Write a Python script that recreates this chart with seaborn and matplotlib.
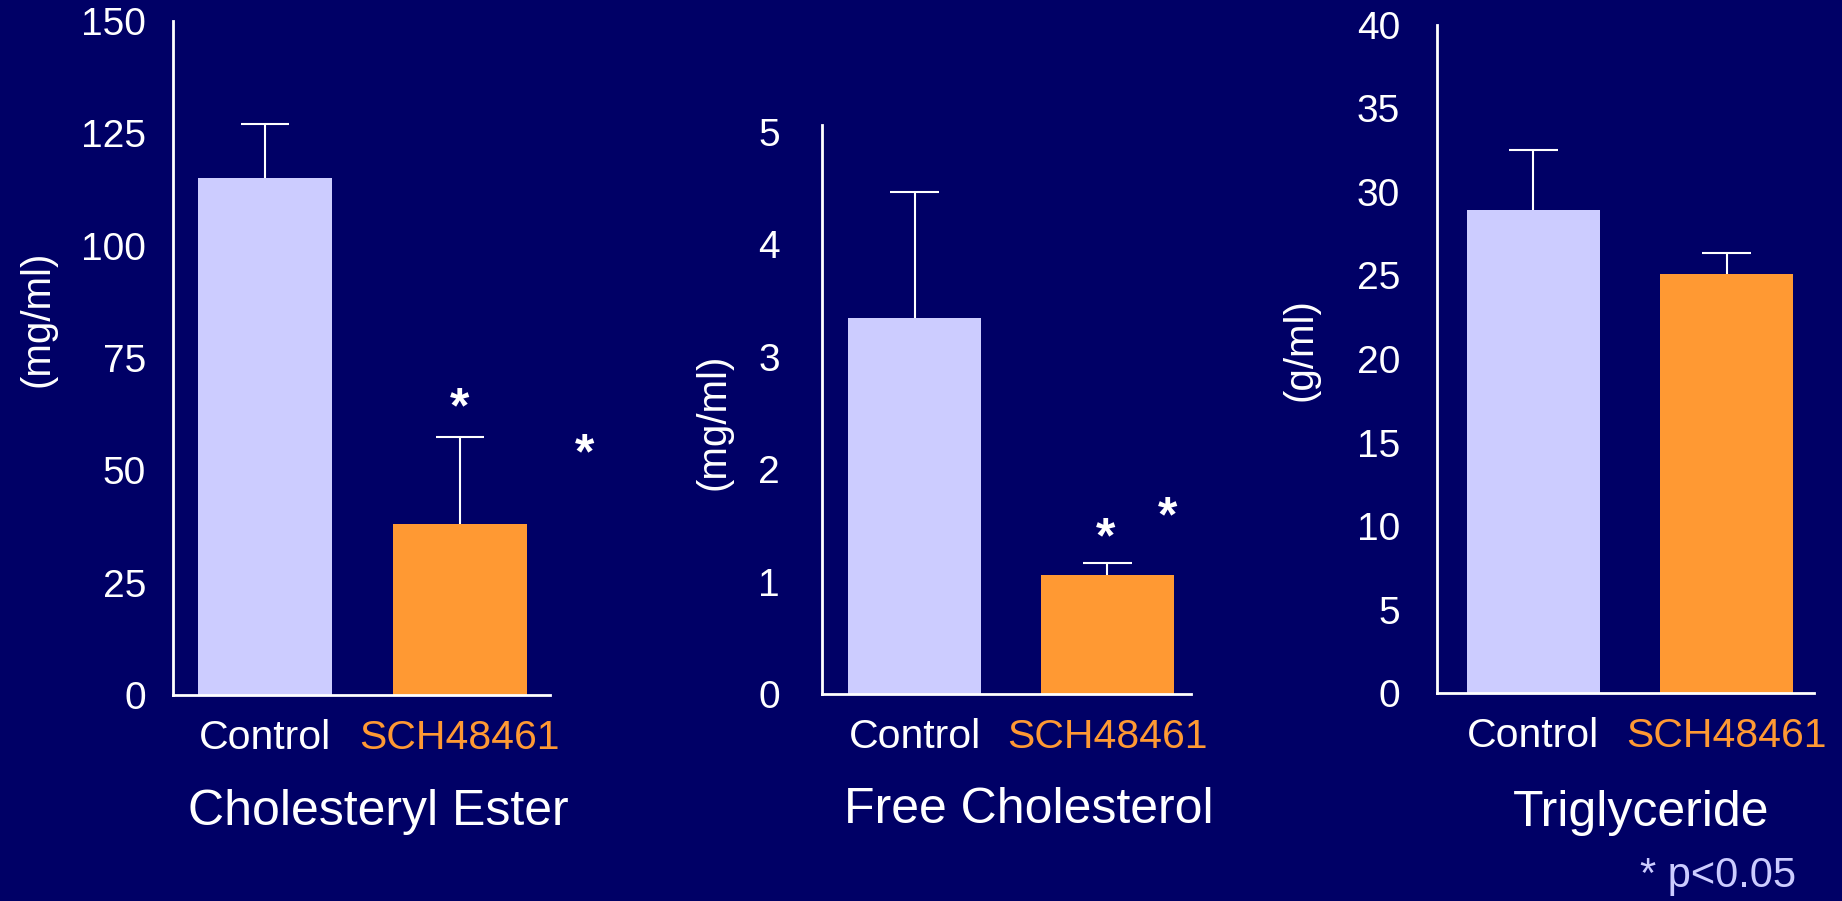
import matplotlib
matplotlib.use("Agg")
import matplotlib.pyplot as plt
import pandas as pd
import seaborn as sns
import numpy as np

# values
groups = ["Control", "SCH48461"]

ce_mean = [115.0, 38.0]
ce_sem = [12.0, 19.5]

fc_mean = [3.35, 1.06]
fc_sem = [1.12, 0.11]

tg_mean = [28.9, 25.1]
tg_sem = [3.6, 1.25]

ce_ticks = [0, 25, 50, 75, 100, 125, 150]
fc_ticks = [0, 1, 2, 3, 4, 5]
tg_ticks = [0, 5, 10, 15, 20, 25, 30, 35, 40]

titles = ["Cholesteryl Ester", "Free Cholesterol", "Triglyceride"]
units = ["(mg/ml)", "(mg/ml)", "(g/ml)"]

# significance stars (x, y in data units) per panel
ce_stars = [(1.0, 60.8), (1.64, 50.5)]
fc_stars = [(0.99, 1.265), (1.31, 1.445)]
tg_stars = []

NAVY = "#000066"
CTRL = "#CCCCFF"
ORANGE = "#FF9933"
palette = {"Control": CTRL, "SCH48461": ORANGE}

sns.set_style("white", {"axes.facecolor": NAVY, "figure.facecolor": NAVY})
plt.rcParams["font.family"] = ["Liberation Sans", "DejaVu Sans"]

fig = plt.figure(figsize=(18.42, 9.01), dpi=100)

panels = [
    # mean, sem, ticks, ylim, xlim, axes rect, tick pad, ylabel coords, xlabel coords, stars
    (ce_mean, ce_sem, ce_ticks, (0, 150), (-0.472, 1.462),
     [0.0939, 0.2286, 0.2047, 0.7480], 10, (-0.358, 0.558), (0.544, -0.174), ce_stars),
    (fc_mean, fc_sem, fc_ticks, (0, 5.067), (-0.479, 1.433),
     [0.4463, 0.2297, 0.2003, 0.6321], 21, (-0.295, 0.478), (0.561, -0.204), fc_stars),
    (tg_mean, tg_sem, tg_ticks, (0, 40), (-0.500, 1.453),
     [0.7801, 0.2303, 0.2047, 0.7423], 17, (-0.361, 0.514), (0.541, -0.179), tg_stars),
]

for i, (mean, sem, ticks, ylim, xlim, rect, pad, ylc, xlc, stars) in enumerate(panels):
    ax = fig.add_axes(rect)
    df = pd.DataFrame({"group": groups, "value": mean, "sem": sem})
    sns.barplot(data=df, x="group", y="value", hue="group", palette=palette,
                legend=False, width=0.69, saturation=1, linewidth=0, ax=ax)

    # one-sided (upward) error bars
    xs = np.arange(len(groups))
    tops = df["value"] + df["sem"]
    ax.vlines(xs, df["value"], tops, color="white", lw=1.5, zorder=3)
    ax.hlines(tops, xs - 0.125, xs + 0.125, color="white", lw=1.5, zorder=3)

    ax.set_ylim(*ylim)
    ax.set_xlim(*xlim)
    ax.set_yticks(ticks)
    ax.set_yticklabels([str(t) for t in ticks])

    sns.despine(ax=ax)
    for side in ["left", "bottom"]:
        ax.spines[side].set_color("white")
        ax.spines[side].set_linewidth(2)

    ax.tick_params(axis="y", colors="white", labelsize=28, length=9.4, width=1.5, pad=pad)
    ax.tick_params(axis="x", length=0, pad=17, labelsize=29.5)
    for lab in ax.get_xticklabels():
        lab.set_color("white" if lab.get_text() == "Control" else ORANGE)

    ax.set_ylabel(units[i], color="white", fontsize=29, va="center")
    ax.yaxis.set_label_coords(*ylc)
    ax.set_xlabel(titles[i], color="white", fontsize=36, va="center")
    ax.xaxis.set_label_coords(*xlc)

    for sx, sy in stars:
        ax.text(sx, sy, "*", color="white", fontsize=36, fontweight="bold",
                ha="center", va="baseline", clip_on=False)

fig.text(1718 / 1842, 1 - 876 / 901, "* p<0.05", color=CTRL, fontsize=30,
         ha="center", va="center")

fig.savefig("out.png", dpi=100, facecolor=NAVY)
